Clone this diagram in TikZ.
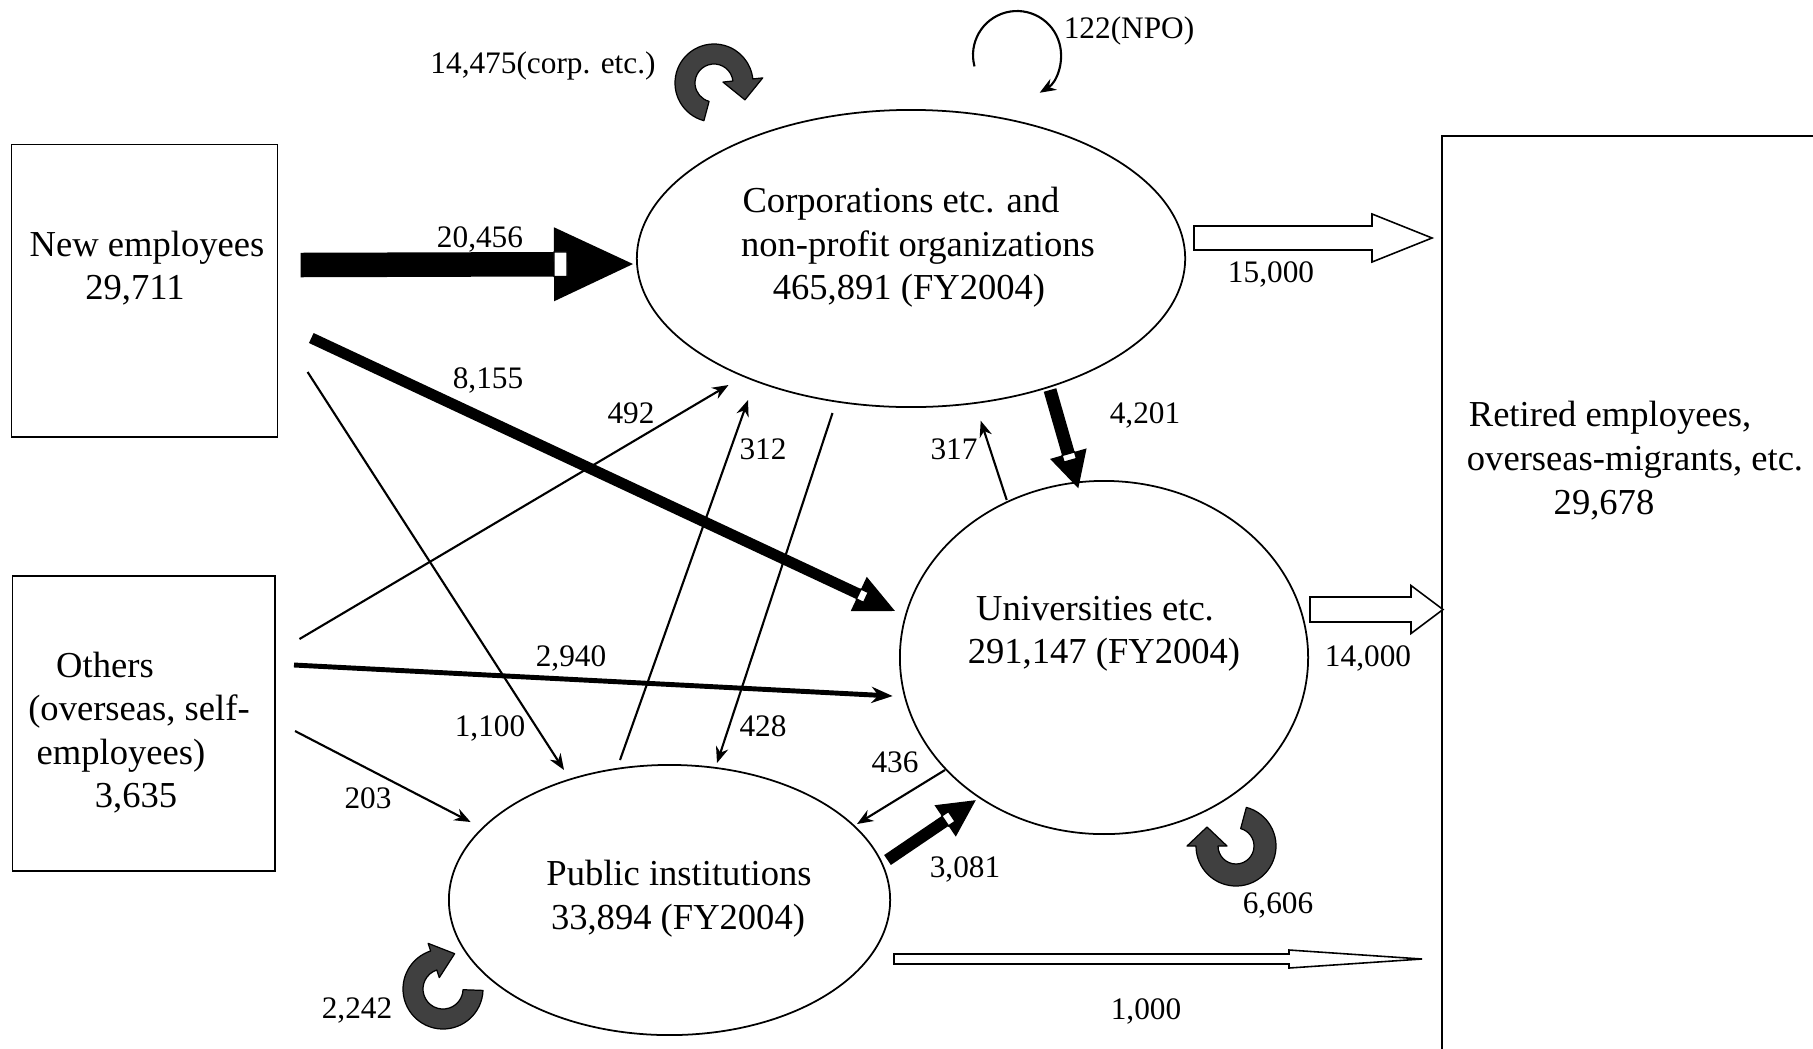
\documentclass[tikz,border=0pt]{standalone}
\usepackage{fontspec}
\setmainfont{Liberation Serif}
\usetikzlibrary{shapes.geometric,arrows.meta,calc}
\definecolor{curlygray}{RGB}{64,64,64}
\tikzset{
  box/.style={draw,line width=0.45pt,rectangle,inner sep=0pt},
  oval/.style={draw,line width=0.5pt,ellipse,inner sep=0pt},
  maintext/.style={anchor=base,inner sep=0pt,font=\fontsize{10.4}{12.4}\selectfont},
  lab/.style={anchor=base,inner sep=0pt,font=\fontsize{8.9}{10.7}\selectfont},
  thinarr/.style={line width=0.6pt,-{Stealth[length=4.6pt,width=3.6pt]}},
  medarr/.style={line width=1.4pt,-{Stealth[length=6pt,width=4.6pt]}},
  curly/.style={fill=curlygray,draw=black,line width=0.35pt,line join=round},
  hollow/.style={fill=white,draw=black,line width=0.45pt,line join=miter},
}
% curly self-loop: cx cy rin rout astart aend overhang headlen
\newcommand{\curlyarr}[8]{%
  \pgfmathsetmacro\cRm{((#3)+(#4))/2}%
  \pgfmathsetmacro\cHo{(#4)+(#7)}%
  \pgfmathsetmacro\cHi{(#3)-(#7)}%
  \pgfmathsetmacro\cAt{(#6)+90}%
  \draw[curly] ($(#1,#2)+(#5:#4)$) arc[start angle=#5,end angle=#6,radius=#4]
    -- ($(#1,#2)+(#6:\cHo)$) -- ($(#1,#2)+(#6:\cRm)+(\cAt:#8)$)
    -- ($(#1,#2)+(#6:\cHi)$) -- ($(#1,#2)+(#6:#3)$)
    arc[start angle=#6,end angle=#5,radius=#3] -- cycle;}
% block arrow: Sx Sy Tx Ty width headhalfwidth headlen notchlen
\newcommand{\blockarr}[8]{%
  \pgfmathsetmacro\bA{atan2((#4)-(#2),(#3)-(#1))}%
  \pgfmathsetmacro\bR{0-(\bA)}%
  \pgfmathsetmacro\bL{veclen((#3)-(#1),(#4)-(#2))}%
  \pgfmathsetmacro\bS{\bL-(#7)}%
  \pgfmathsetmacro\bN{\bS+(#8)}%
  \pgfmathsetmacro\bW{(#5)/2}%
  \begin{scope}[shift={(#1,#2)},rotate=\bR]
    \fill (0,-\bW) rectangle (\bS,\bW);
    \fill (\bS,-#6) -- (\bL,0) -- (\bS,#6) -- cycle;
    \draw[fill=white,line width=0.4pt] (\bS,-\bW) rectangle (\bN,\bW);
  \end{scope}}
\begin{document}
\begin{tikzpicture}[x=0.01cm,y=-0.01cm]
\useasboundingbox (0,0) rectangle (1813,1048);
\fill[white] (0,0) rectangle (1813,1048);

% boxes
\node[box,minimum width=2.66cm,minimum height=2.925cm] (newemp) at (144.5,290.8) {};
\node[box,minimum width=2.623cm,minimum height=2.95cm] (others) at (143.9,723.5) {};
\node[box,minimum width=3.98cm,minimum height=9.34cm] (retired) at (1641,603) {};

% ellipses
\node[oval,minimum width=5.48cm,minimum height=2.97cm] (corp) at (911,258.5) {};
\node[oval,minimum width=4.08cm,minimum height=3.53cm] (univ) at (1104,657.5) {};
\node[oval,minimum width=4.41cm,minimum height=2.70cm] (pub) at (669.5,900) {};

% texts
\node[maintext] (t1) at (147,256) {New employees};
\node[maintext] (t2) at (135,299) {29,711};
\node[maintext] (t3) at (105,677) {Others};
\node[maintext] (t4) at (139,720) {(overseas, self-};
\node[maintext] (t5) at (121,764) {employees)};
\node[maintext] (t6) at (136,807) {3,635};
\node[maintext] (t7) at (901,212) {Corporations etc. and};
\node[maintext] (t8) at (918,256) {non-profit organizations};
\node[maintext] (t9) at (909,299) {465,891 (FY2004)};
\node[maintext] (t10) at (1095,620) {Universities etc.};
\node[maintext] (t11) at (1104,663) {291,147 (FY2004)};
\node[maintext] (t12) at (679,885) {Public institutions};
\node[maintext] (t13) at (678,929) {33,894 (FY2004)};
\node[maintext] (t14) at (1610,426) {Retired employees,};
\node[maintext] (t15) at (1635,470) {overseas-migrants, etc.};
\node[maintext] (t16) at (1604,514) {29,678};

% labels
\node[lab] (l1) at (543,73) {14,475(corp. etc.)};
\node[lab] (l2) at (1129,38) {122(NPO)};
\node[lab] (l3) at (480,247) {20,456};
\node[lab] (l4) at (1271,282) {15,000};
\node[lab] (l5) at (488,388) {8,155};
\node[lab] (l6) at (631,423) {492};
\node[lab] (l7) at (763,459) {312};
\node[lab] (l8) at (954,459) {317};
\node[lab] (l9) at (1145,423) {4,201};
\node[lab] (l10) at (571,666) {2,940};
\node[lab] (l11) at (1368,666) {14,000};
\node[lab] (l12) at (490,736) {1,100};
\node[lab] (l13) at (763,736) {428};
\node[lab] (l14) at (895,772) {436};
\node[lab] (l15) at (368,808) {203};
\node[lab] (l16) at (965,877) {3,081};
\node[lab] (l17) at (1278,913) {6,606};
\node[lab] (l18) at (357,1018) {2,242};
\node[lab] (l19) at (1146,1019) {1,000};

% thin connectors
\coordinate (a1s) at (307.6,372);  \coordinate (a1e) at (564,770);
\coordinate (a2s) at (299.5,639);  \coordinate (a2e) at (728.5,385);
\coordinate (a3s) at (294,665);    \coordinate (a3e) at (892.6,696);
\coordinate (a4s) at (295,731);    \coordinate (a4e) at (470.6,822);
\coordinate (a5s) at (620,760);    \coordinate (a5e) at (748,400);
\coordinate (a6s) at (832.5,413);  \coordinate (a6e) at (717,763);
\coordinate (a7s) at (1006.7,500); \coordinate (a7e) at (980.7,420.7);
\coordinate (a8s) at (945,770);    \coordinate (a8e) at (857,824);
\draw[thinarr] (a1s) -- (a1e);
\draw[thinarr] (a2s) -- (a2e);
\draw[medarr] (a3s) -- (a3e);
\draw[thinarr] (a4s) -- (a4e);
\draw[thinarr] (a5s) -- (a5e);
\draw[thinarr] (a6s) -- (a6e);
\draw[thinarr] (a7s) -- (a7e);
\draw[thinarr] (a8s) -- (a8e);

% NPO loop
\coordinate (npo) at (974.5,66.4);
\draw[thinarr] (npo) arc[start angle=165,end angle=419,radius=44];

% block arrows
\blockarr{300.7}{265}{633}{264}{24.5}{37}{79}{13}
\blockarr{311.3}{338}{895}{611}{11}{19}{40}{8}
\blockarr{1050}{390}{1078.3}{488.3}{13}{19}{36}{7}
\blockarr{887.5}{860}{976}{800}{12}{19}{37}{8}

% hollow arrows
\draw[hollow] (1194,226) -- (1372,226) -- (1372,214) -- (1432,238) -- (1372,262) -- (1372,250) -- (1194,250) -- cycle;
\draw[hollow] (1310,597) -- (1411,597) -- (1411,585.5) -- (1443,609.5) -- (1411,633.5) -- (1411,622) -- (1310,622) -- cycle;
\draw[hollow] (894,954) -- (1289,954) -- (1289,950) -- (1422,959) -- (1289,968) -- (1289,964) -- (894,964) -- cycle;

% curly self loops
\curlyarr{714}{83}{19}{39}{105}{354}{10}{20}
\curlyarr{1236}{846}{18}{40}{285}{540}{9}{19}
\curlyarr{443}{989}{20}{40}{2}{252}{8}{22}
\end{tikzpicture}
\end{document}
